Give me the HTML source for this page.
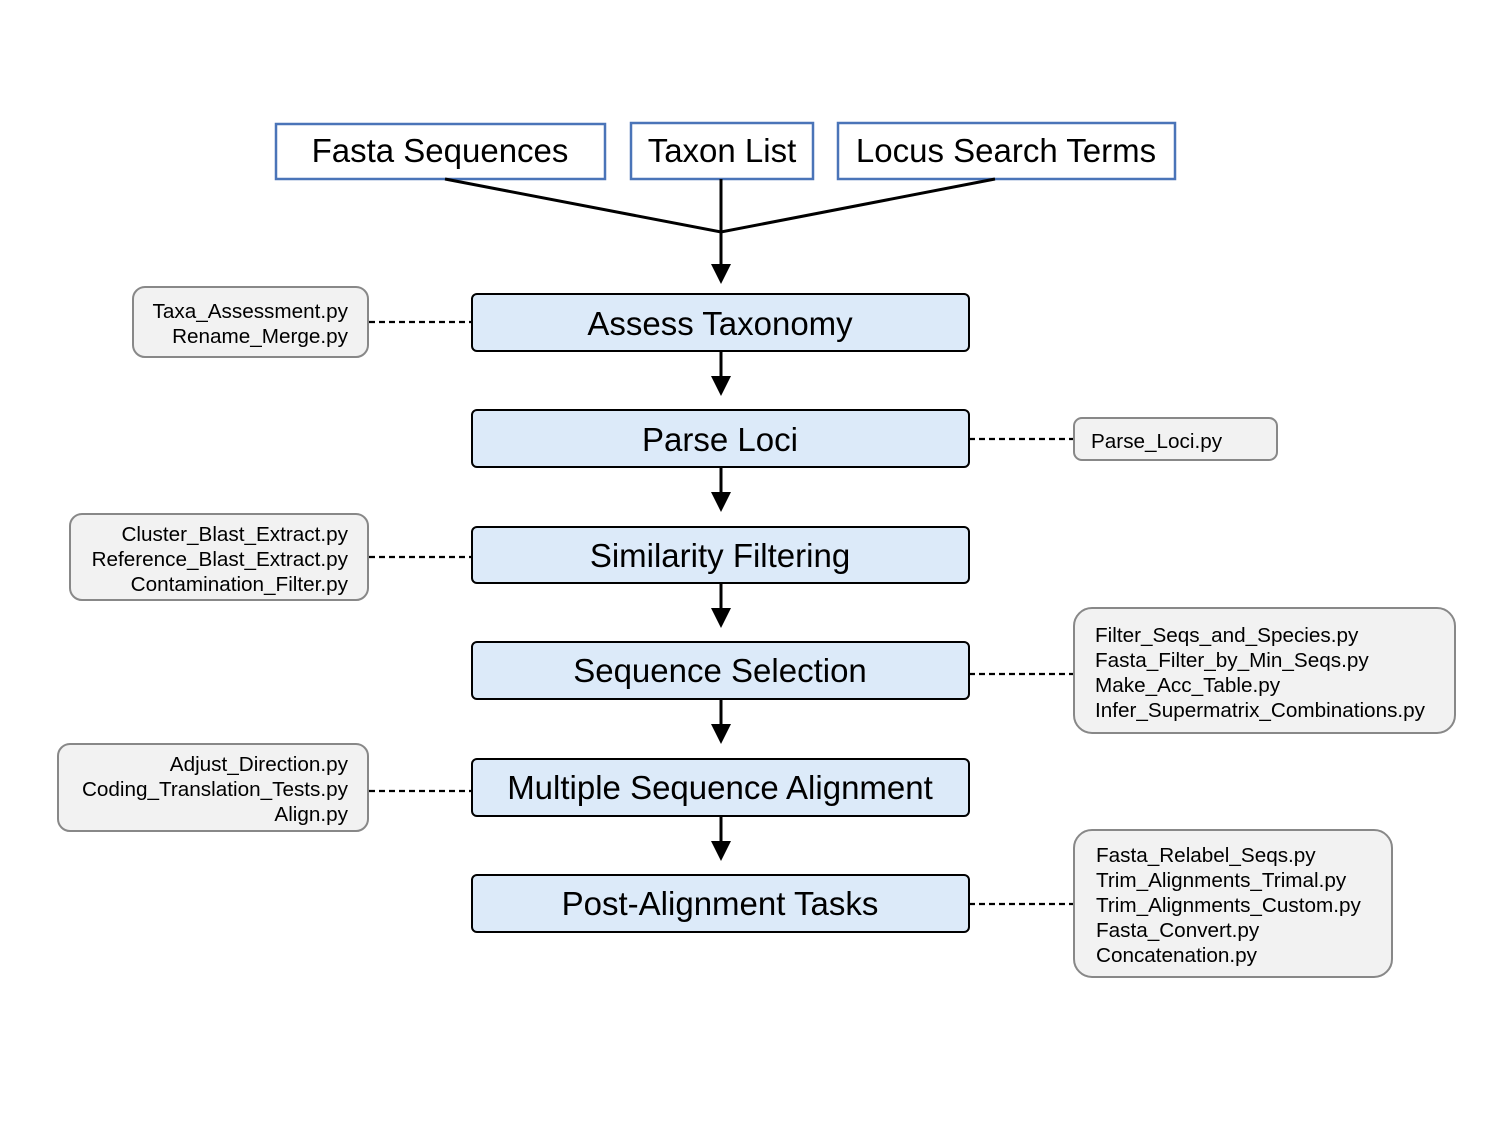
<!DOCTYPE html>
<html><head><meta charset="utf-8"><style>
html,body{margin:0;padding:0;background:#fff;}
svg{display:block;}
text{font-family:"Liberation Sans",Arial,sans-serif;fill:#000;}
.m{font-size:33px;text-anchor:middle;}
.s{font-size:20.7px;}
</style></head><body>
<svg width="1500" height="1125" viewBox="0 0 1500 1125">
<g fill="#fff" stroke="#4a74b8" stroke-width="2.5">
<rect x="276" y="124" width="329" height="55"/>
<rect x="631" y="123" width="182" height="56"/>
<rect x="838" y="123" width="337" height="56"/>
</g>
<text class="m" x="440" y="162">Fasta Sequences</text>
<text class="m" x="722" y="162">Taxon List</text>
<text class="m" x="1006" y="162">Locus Search Terms</text>
<g stroke="#000" stroke-width="3" fill="none">
<polyline points="445,179 721,232 995,179"/>
<line x1="721" y1="179" x2="721" y2="266"/>
<line x1="721" y1="351" x2="721" y2="378"/>
<line x1="721" y1="467" x2="721" y2="494"/>
<line x1="721" y1="583" x2="721" y2="610"/>
<line x1="721" y1="699" x2="721" y2="726"/>
<line x1="721" y1="816" x2="721" y2="843"/>
</g>
<g fill="#000">
<path d="M711,264 L731,264 L721,284 Z"/>
<path d="M711,376 L731,376 L721,396 Z"/>
<path d="M711,492 L731,492 L721,512 Z"/>
<path d="M711,608 L731,608 L721,628 Z"/>
<path d="M711,724 L731,724 L721,744 Z"/>
<path d="M711,841 L731,841 L721,861 Z"/>
</g>
<g fill="#dceaf9" stroke="#000" stroke-width="2">
<rect x="472" y="294" width="497" height="57" rx="5"/>
<rect x="472" y="410" width="497" height="57" rx="5"/>
<rect x="472" y="527" width="497" height="56" rx="5"/>
<rect x="472" y="642" width="497" height="57" rx="5"/>
<rect x="472" y="759" width="497" height="57" rx="5"/>
<rect x="472" y="875" width="497" height="57" rx="5"/>
</g>
<text class="m" x="720" y="335">Assess Taxonomy</text>
<text class="m" x="720" y="451">Parse Loci</text>
<text class="m" x="720" y="567">Similarity Filtering</text>
<text class="m" x="720" y="682">Sequence Selection</text>
<text class="m" x="720" y="799">Multiple Sequence Alignment</text>
<text class="m" x="720" y="915">Post-Alignment Tasks</text>
<g stroke="#000" stroke-width="2.2" stroke-dasharray="6,4">
<line x1="369" y1="322" x2="472" y2="322"/>
<line x1="969" y1="439" x2="1074" y2="439"/>
<line x1="369" y1="557" x2="472" y2="557"/>
<line x1="969" y1="674" x2="1074" y2="674"/>
<line x1="369" y1="791" x2="472" y2="791"/>
<line x1="969" y1="904" x2="1074" y2="904"/>
</g>
<g fill="#f2f2f2" stroke="#888" stroke-width="2">
<rect x="133" y="287" width="235" height="70" rx="12"/>
<rect x="1074" y="418" width="203" height="42" rx="8"/>
<rect x="70" y="514" width="298" height="86" rx="12"/>
<rect x="1074" y="608" width="381" height="125" rx="18"/>
<rect x="58" y="744" width="310" height="87" rx="12"/>
<rect x="1074" y="830" width="318" height="147" rx="18"/>
</g>
<text class="s" x="348" y="318" text-anchor="end">Taxa_Assessment.py</text>
<text class="s" x="348" y="343" text-anchor="end">Rename_Merge.py</text>
<text class="s" x="348" y="541" text-anchor="end">Cluster_Blast_Extract.py</text>
<text class="s" x="348" y="566" text-anchor="end">Reference_Blast_Extract.py</text>
<text class="s" x="348" y="591" text-anchor="end">Contamination_Filter.py</text>
<text class="s" x="348" y="771" text-anchor="end">Adjust_Direction.py</text>
<text class="s" x="348" y="796" text-anchor="end">Coding_Translation_Tests.py</text>
<text class="s" x="348" y="821" text-anchor="end">Align.py</text>
<text class="s" x="1091" y="448">Parse_Loci.py</text>
<text class="s" x="1095" y="642">Filter_Seqs_and_Species.py</text>
<text class="s" x="1095" y="667">Fasta_Filter_by_Min_Seqs.py</text>
<text class="s" x="1095" y="692">Make_Acc_Table.py</text>
<text class="s" x="1095" y="717">Infer_Supermatrix_Combinations.py</text>
<text class="s" x="1096" y="862">Fasta_Relabel_Seqs.py</text>
<text class="s" x="1096" y="887">Trim_Alignments_Trimal.py</text>
<text class="s" x="1096" y="912">Trim_Alignments_Custom.py</text>
<text class="s" x="1096" y="937">Fasta_Convert.py</text>
<text class="s" x="1096" y="962">Concatenation.py</text>
</svg>
</body></html>
